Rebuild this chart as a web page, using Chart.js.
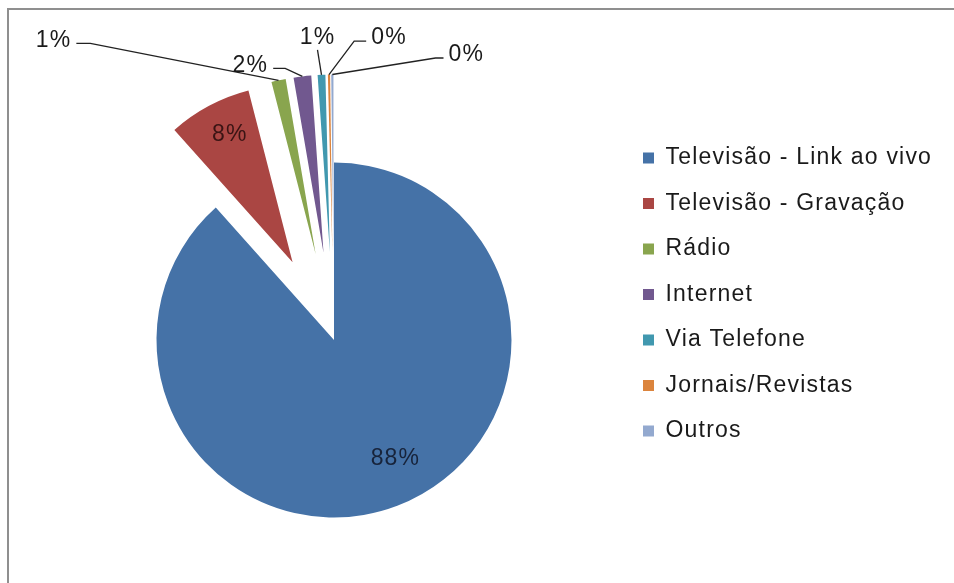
<!DOCTYPE html>
<html>
<head>
<meta charset="utf-8">
<title>Meios de transmissão</title>
<script src="https://cdn.jsdelivr.net/npm/chart.js@4.4.1/dist/chart.umd.min.js"></script>
<style>
  html, body { margin: 0; padding: 0; background: #fff; overflow: hidden; }
  #quadro { position: relative; width: 954px; height: 583px; overflow: hidden; }
  #quadro canvas { position: absolute; left: 0; top: 0; }
  #moldura {
    position: absolute; left: 7px; top: 8px; width: 1000px; height: 1000px;
    border-left: 2px solid #8f8f8f; border-top: 2px solid #8f8f8f;
    pointer-events: none;
  }
</style>
</head>
<body>
<div id="quadro">
  <canvas id="graficoPizza" width="954" height="583"></canvas>
  <div id="moldura"></div>
</div>
<script>
const categorias = ["Televisão - Link ao vivo", "Televisão - Gravação", "Rádio", "Internet", "Via Telefone", "Jornais/Revistas", "Outros"];
const valores = [88.4, 7.6, 1.3, 1.6, 0.7, 0.2, 0.2];
const cores = ["#4572A7", "#AA4643", "#89A54E", "#71588F", "#4198AF", "#DB843D", "#93A9CF"];

const FONTE = '"Liberation Sans", Arial, sans-serif';
const TAM_FONTE = 23;
const ESPACO_LETRA = '1.2px';
const AFASTAMENTO = 88;       // quanto as fatias menores saem do centro
const BORDA_DIREITA = 620.5;  // fim da área da pizza, onde começa a legenda

const afastar = i => (i === 0 ? 0 : AFASTAMENTO);

Chart.defaults.font.family = FONTE;

// o texto do Excel sai mais espaçado; aplica no contexto antes de medir e desenhar
const espacamento = {
  id: 'espacamento',
  beforeLayout(chart) { chart.ctx.letterSpacing = ESPACO_LETRA; },
  beforeDraw(chart) { chart.ctx.letterSpacing = ESPACO_LETRA; }
};

// desenha cada fatia deslocada para fora, sem aumentar o raio
const fatiasDestacadas = {
  id: 'fatiasDestacadas',
  beforeDatasetDraw(chart, args) {
    const ctx = chart.ctx;
    args.meta.data.forEach((arc, i) => {
      const meio = (arc.startAngle + arc.endAngle) / 2;
      const d = afastar(i);
      ctx.save();
      ctx.translate(Math.cos(meio) * d, Math.sin(meio) * d);
      arc.draw(ctx);
      ctx.restore();
    });
    return false;
  }
};

// rótulos de porcentagem, com linhas de chamada para as fatias pequenas
const rotulos = {
  id: 'rotulos',
  afterDatasetsDraw(chart, args, opts) {
    const ctx = chart.ctx;
    const meta = chart.getDatasetMeta(0);
    const total = valores.reduce((a, b) => a + b, 0);
    ctx.save();
    ctx.font = TAM_FONTE + 'px ' + FONTE;
    ctx.letterSpacing = ESPACO_LETRA;
    ctx.textAlign = 'center';
    ctx.textBaseline = 'middle';
    ctx.lineWidth = 1.3;
    ctx.strokeStyle = '#222';

    meta.data.forEach((arc, i) => {
      const pos = opts.posicoes[i];
      const meio = (arc.startAngle + arc.endAngle) / 2;
      const d = afastar(i);
      const cx = arc.x + Math.cos(meio) * d;
      const cy = arc.y + Math.sin(meio) * d;
      const texto = Math.round(valores[i] / total * 100) + '%';

      if (pos.dentro) {
        const r = arc.outerRadius * pos.r;
        ctx.fillStyle = pos.cor;
        ctx.fillText(texto, cx + Math.cos(meio) * r + pos.dx, cy + Math.sin(meio) * r + pos.dy);
        return;
      }

      const px = cx + Math.cos(meio) * arc.outerRadius;
      const py = cy + Math.sin(meio) * arc.outerRadius;
      const tx = px + pos.dx;
      const ty = py + pos.dy;
      ctx.fillStyle = '#1a1a1a';
      ctx.fillText(texto, tx, ty);

      const meiaLarg = ctx.measureText(texto).width / 2;
      ctx.beginPath();
      if (pos.lado === 'abaixo') {
        ctx.moveTo(tx, ty + 12);
      } else {
        const sinal = pos.lado === 'direita' ? 1 : -1;
        const x0 = tx + sinal * (meiaLarg + 5);
        ctx.moveTo(x0, ty + 3);
        ctx.lineTo(x0 + sinal * pos.cotovelo, ty + 3);
      }
      ctx.lineTo(px, py);
      ctx.stroke();
    });
    ctx.restore();
  }
};

const grafico = new Chart(document.getElementById('graficoPizza'), {
  type: 'pie',
  data: {
    labels: categorias,
    datasets: [{
      data: valores,
      backgroundColor: cores,
      borderWidth: 0,
      radius: 177.5
    }]
  },
  options: {
    responsive: false,
    animation: false,
    layout: { padding: { left: 47.5, top: 124, bottom: 27, right: 0 } },
    plugins: {
      legend: {
        position: 'right',
        align: 'start',
        labels: {
          boxWidth: 11,
          boxHeight: 11,
          padding: 22.5,
          color: '#1a1a1a',
          font: { size: TAM_FONTE, family: FONTE }
        }
      },
      tooltip: { enabled: false },
      rotulos: {
        posicoes: [
          { dentro: true, r: 0.75, dx: 14, dy: -6, cor: '#17233a' },
          { dentro: true, r: 0.8, dx: 4, dy: -2, cor: '#3a1414' },
          { lado: 'direita', dx: -225, dy: -40, cotovelo: 14 },
          { lado: 'direita', dx: -52, dy: -11, cotovelo: 12 },
          { lado: 'abaixo', dx: -4, dy: -37 },
          { lado: 'esquerda', dx: 60, dy: -36.5, cotovelo: 12 },
          { lado: 'esquerda', dx: 134, dy: -19.5, cotovelo: 8 }
        ]
      }
    }
  },
  plugins: [espacamento, fatiasDestacadas, rotulos]
});

// encosta a legenda logo depois da área da pizza
grafico.options.layout.padding.right = 954 - BORDA_DIREITA - grafico.legend.width;
grafico.update();
</script>
</body>
</html>
